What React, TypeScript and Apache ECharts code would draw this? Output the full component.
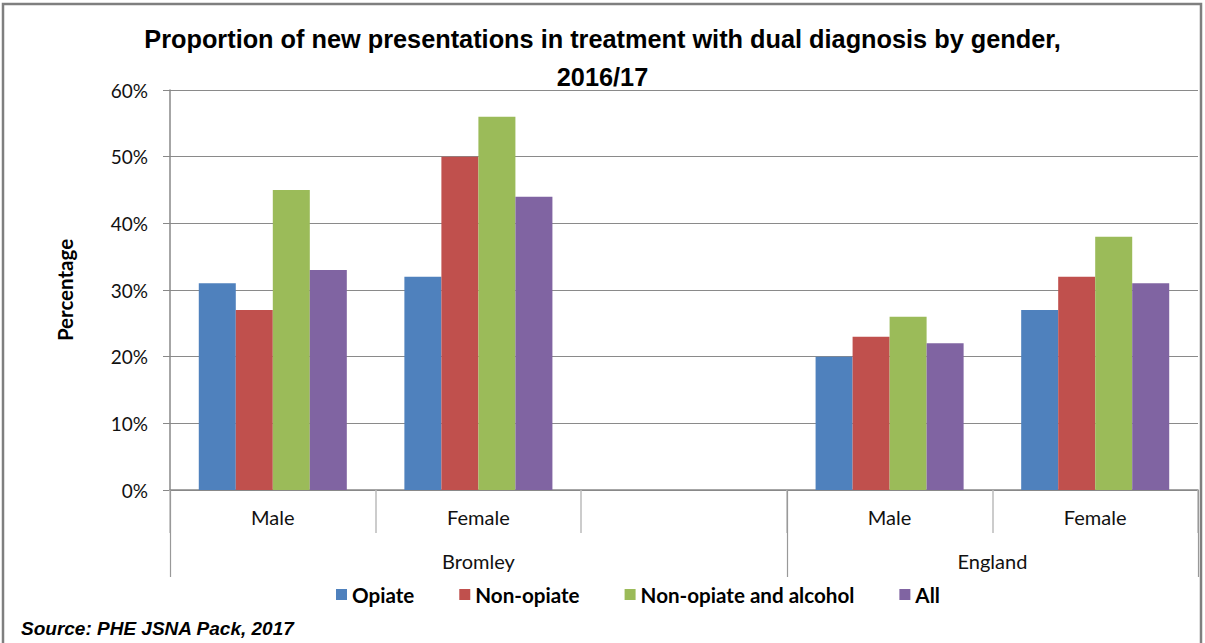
import React, { useEffect, useRef } from "react";
import * as echarts from "echarts";

const categories = ["Male", "Female", "", "Male", "Female"];
const groups = ["Bromley", "England"];
const groupCenters = [1.5, 4];
const groupBounds = [0, 3, 5];
const seriesNames = ["Opiate", "Non-opiate", "Non-opiate and alcohol", "All"];
const opiate = [31, 32, null, 20, 27];
const nonOpiate = [27, 50, null, 23, 32];
const nonOpiateAlcohol = [45, 56, null, 26, 38];
const allValues = [33, 44, null, 22, 31];
const colors = ["#4F81BD", "#C0504D", "#9BBB59", "#8064A2"];
const yTicks = [0, 10, 20, 30, 40, 50, 60];

const NARROW = "'Liberation Sans Narrow', 'Arial Narrow', 'Liberation Sans', Arial, sans-serif";
const CAL = "Lato, 'Open Sans', sans-serif";

export default function App() {
  const ref = useRef<HTMLDivElement>(null);
  useEffect(() => {
    if (!ref.current) return;
    const chart = echarts.init(ref.current, null, { renderer: "svg" });
    const dataSets = [opiate, nonOpiate, nonOpiateAlcohol, allValues];
    const option: any = {
      animation: false,
      backgroundColor: "#ffffff",
      title: {
        text: "Proportion of new presentations in treatment with dual diagnosis by gender,\n2016/17",
        left: "center",
        top: 20,
        padding: 0,
        textStyle: {
          fontFamily: NARROW,
          fontWeight: "bold",
          fontSize: 25.3,
          lineHeight: 38,
          color: "#000",
        },
      },
      legend: {
        data: seriesNames,
        top: 584,
        left: 336,
        padding: 0,
        icon: "rect",
        itemWidth: 11,
        itemHeight: 11,
        itemGap: 45,
        textStyle: { fontFamily: CAL, fontWeight: "bold", fontSize: 20.6, color: "#000" },
      },
      grid: { left: 170, right: 7, top: 90, bottom: 153 },
      xAxis: [
        {
          type: "category",
          data: categories,
          position: "bottom",
          axisLine: { show: true, lineStyle: { color: "#888", width: 1.5 } },
          axisTick: { show: true, length: 43, lineStyle: { color: "#bbb", width: 1.5 } },
          axisLabel: { margin: 17, fontFamily: CAL, fontSize: 20, color: "#111" },
        },
        {
          type: "value",
          min: 0,
          max: 5,
          position: "bottom",
          axisLine: { show: false },
          splitLine: { show: false },
          axisTick: {
            show: true,
            length: 87,
            customValues: groupBounds,
            lineStyle: { color: "#999", width: 1.2 },
          },
          axisLabel: {
            show: true,
            margin: 61,
            customValues: groupCenters,
            fontFamily: CAL,
            fontSize: 20,
            color: "#111",
            formatter: (v: number) => {
              const i = groupCenters.indexOf(v);
              return i >= 0 ? groups[i] : "";
            },
          },
        },
      ],
      yAxis: {
        type: "value",
        min: 0,
        max: 60,
        interval: 10,
        name: "Percentage",
        nameLocation: "middle",
        nameRotate: 90,
        nameGap: 95,
        nameTextStyle: { fontFamily: CAL, fontWeight: "bold", fontSize: 20.5, color: "#000" },
        axisLine: { show: true, lineStyle: { color: "#888", width: 1.5 } },
        axisTick: { show: true, length: 7, lineStyle: { color: "#888" } },
        axisLabel: {
          margin: 22,
          fontFamily: CAL,
          fontSize: 19,
          color: "#111",
          formatter: (v: number) => (yTicks.indexOf(v) >= 0 ? v + "%" : ""),
        },
        splitLine: { show: true, lineStyle: { color: "#8a8a8a", width: 1.2 } },
      },
      series: seriesNames.map((n, i) => ({
        name: n,
        type: "bar",
        xAxisIndex: 0,
        data: dataSets[i],
        barGap: "0%",
        barCategoryGap: "28%",
        itemStyle: { color: colors[i] },
      })),
      graphic: [
        {
          type: "rect",
          shape: { x: 3, y: 4, width: 1198, height: 660 },
          style: { fill: "none", stroke: "#7f7f7f", lineWidth: 2.5 },
          silent: true,
        },
        {
          type: "text",
          left: 21,
          top: 619,
          style: {
            text: "Source: PHE JSNA Pack, 2017",
            font: "italic bold 19px " + NARROW,
            fill: "#000",
          },
        },
      ],
    };
    chart.setOption(option);
    return () => chart.dispose();
  }, []);
  return (
    <div
      ref={ref}
      style={{ position: "fixed", left: 0, top: 0, width: 1205, height: 643 }}
    />
  );
}
